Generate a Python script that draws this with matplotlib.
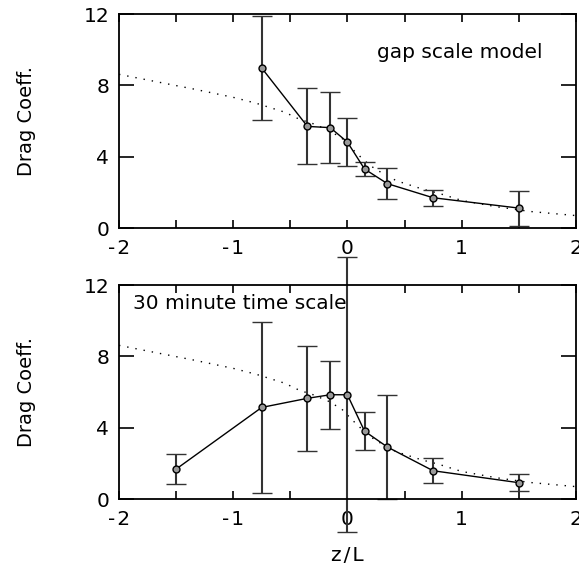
import matplotlib
matplotlib.use("Agg")
import matplotlib.pyplot as plt
from matplotlib.ticker import MultipleLocator

plt.rcParams['font.family'] = ['DejaVu Sans']
plt.rcParams['axes.unicode_minus'] = False

# gap scale model panel
gap_x = [-0.75, -0.35, -0.15, 0.0, 0.15, 0.35, 0.75, 1.5]
gap_y = [8.97, 5.70, 5.63, 4.82, 3.31, 2.49, 1.70, 1.12]
gap_err = [2.90, 2.13, 2.00, 1.33, 0.37, 0.87, 0.45, 0.98]

# 30 minute time scale panel
min30_x = [-1.5, -0.75, -0.35, -0.15, 0.0, 0.15, 0.35, 0.75, 1.5]
min30_y = [1.68, 5.14, 5.65, 5.85, 5.85, 3.81, 2.92, 1.59, 0.92]
min30_err = [0.86, 4.80, 2.93, 1.90, 7.70, 1.07, 2.92, 0.71, 0.47]

# dotted model curve
model_x = [-2.0, -1.7, -1.35, -1.0, -0.8, -0.55, -0.42, -0.3, -0.17, -0.05, 0.04,
           0.11, 0.2, 0.3, 0.43, 0.65, 0.8, 1.0, 1.3, 1.6, 2.0]
model_y = [8.62, 8.24, 7.80, 7.33, 7.0, 6.5, 6.1, 5.85, 5.5, 5.05, 4.45,
           4.02, 3.5, 3.1, 2.65, 2.2, 1.95, 1.55, 1.2, 0.93, 0.7]

xticks = [-2, -1, 0, 1, 2]
xticklabels = ['-2', '-1', '0', '1', '2']
yticks = [0, 4, 8, 12]


def spaced(s):
	return '\u200a'.join(s)


def panel(ax, x, y, err, label, lx, ly):
	ax.plot(model_x, model_y, color='black', lw=1.0, ls=(0, (1, 5)))
	eb = ax.errorbar(x, y, yerr=err, color='black', lw=1.0, marker='o', ms=5,
					 mfc='#999999', mec='black', mew=1.0,
					 ecolor='#333333', elinewidth=1.5, capsize=7.2, capthick=1.5)
	for part in [eb.lines[0]] + list(eb.lines[1]) + list(eb.lines[2]):
		part.set_clip_on(False)
	ax.set_xlim(-2, 2)
	ax.set_ylim(0, 12)
	ax.set_xticks(xticks)
	ax.set_xticklabels([spaced(t) for t in xticklabels])
	ax.xaxis.set_minor_locator(MultipleLocator(0.5))
	ax.set_yticks(yticks)
	ax.tick_params(axis='x', which='both', direction='in', top=True, length=6, width=1.2,
				   labelsize=14.5, pad=8)
	ax.tick_params(axis='y', direction='in', right=True, length=11, width=1.2,
				   labelsize=14.5, pad=7)
	for sp in ax.spines.values():
		sp.set_linewidth(1.3)
	ax.set_ylabel('Drag Coeff.', fontsize=14, labelpad=34)
	ax.text(lx, ly, label, fontsize=14.5, transform=ax.transAxes, va='center', ha='left')


fig = plt.figure(figsize=(5.79, 5.73), dpi=100)
ax1 = fig.add_axes([0.2055, 0.602, 0.789, 0.3735])
ax2 = fig.add_axes([0.2055, 0.129, 0.789, 0.3735])

panel(ax1, gap_x, gap_y, gap_err, 'gap scale model', 0.565, 0.82)
panel(ax2, min30_x, min30_y, min30_err, '30 minute time scale', 0.03, 0.915)
ax2.set_xlabel(spaced('z/L'), fontsize=14.5, labelpad=12)

fig.savefig('out.png', dpi=100)
